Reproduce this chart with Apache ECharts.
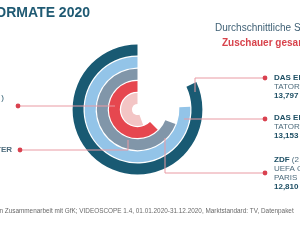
<!DOCTYPE html>
<html><head><meta charset="utf-8">
<script src="https://cdn.jsdelivr.net/npm/echarts@6/dist/echarts.min.js"></script>
<style>html,body{margin:0;padding:0;background:#fff;}#c{width:300px;height:240px;}</style>
</head><body><div id="c"></div>
<script>
// rings from inner to outer
const rings = ['Ring 5', 'Ring 4', 'Ring 3', 'Ring 2', 'Ring 1'];
// arc sweep (degrees of a full circle)
const sweep = [200, 225, 249, 273, 295];
const ringColors = ['#f3c5c5', '#e6474f', '#8196a9', '#93c4e8', '#195a73'];
const rightNames = ['DAS ERSTE', 'DAS ERSTE', 'ZDF'];
const rightSub = [['TATORT'], ['TATORT'], ['UEFA CHAMPIONS LEAGUE', 'PARIS - BAYERN']];
const rightSuffix = ['', '', ' (2'];
const rightValues = ['13,797', '13,153', '12,810'];

const chart = echarts.init(document.getElementById('c'), null, {renderer: 'canvas'});
const dark = '#1d4f64';
const lineC = '#e99aa3';
const dotC = '#d9414f';

const graphics = [];
function txt(x, y, text, style) {
  graphics.push({type: 'text', x: x, y: y, z: 10, style: Object.assign({text: text, fill: dark, fontFamily: 'Liberation Sans, Arial, sans-serif', fontSize: 8, verticalAlign: 'middle'}, style)});
}
function line(pts) {
  graphics.push({type: 'polyline', z: 5, shape: {points: pts}, style: {stroke: lineC, lineWidth: 1, fill: null}});
}
function dot(x, y) {
  graphics.push({type: 'circle', z: 6, shape: {cx: x, cy: y, r: 2.4}, style: {fill: dotC}});
}
// title
txt(90, 13, 'TOP-FORMATE 2020', {textAlign: 'right', fontWeight: 'bold', fontSize: 14, fill: '#1f5a73'});
// subtitle
txt(215, 28, 'Durchschnittliche Sehbeteiligung', {fontSize: 10, fill: '#3f6075'});
txt(222, 43, 'Zuschauer gesamt', {fontSize: 10, fontWeight: 'bold', fill: '#d8434c'});
// connectors
line([[195, 92], [195, 78], [265, 78]]); dot(265, 78);
line([[184, 119], [265, 119]]); dot(265, 119);
line([[165, 138], [165, 173], [265, 173]]); dot(265, 173);
line([[18, 106], [115, 106]]); dot(18, 106);
line([[20, 150], [128, 150], [128, 140]]); dot(20, 150);
// right labels
const groupsY = [78, 118, 160];
for (let i = 0; i < 3; i++) {
  let y = groupsY[i];
  graphics.push({type: 'text', x: 274, y: y, z: 10, style: {rich: {b: {fontWeight: 'bold', fill: dark, fontSize: 8, fontFamily: 'Liberation Sans, Arial, sans-serif'}, n: {fill: '#4d6b7c', fontSize: 8, fontFamily: 'Liberation Sans, Arial, sans-serif'}}, text: '{b|' + rightNames[i] + '}' + (rightSuffix[i] ? '{n|' + rightSuffix[i] + '}' : ''), verticalAlign: 'middle'}});
  y += 9;
  for (const s of rightSub[i]) { txt(274, y, s, {fill: '#4d6b7c'}); y += 9; }
  txt(274, y, rightValues[i], {fontWeight: 'bold'});
}
// left labels (cut at the left edge)
txt(4, 98, ')', {textAlign: 'right', fill: dark});
txt(12, 150, 'CENTER', {textAlign: 'right', fontWeight: 'bold', fill: '#4d6b7c'});
// footer
txt(-2, 211, 'in Zusammenarbeit mit GfK; VIDEOSCOPE 1.4, 01.01.2020-31.12.2020, Marktstandard: TV, Datenpaket', {fontSize: 6.4, fill: '#6a6a6a'});

chart.setOption({
  animation: false,
  polar: {center: [137.5, 109.5], radius: [5, 65.5]},
  angleAxis: {type: 'value', min: 0, max: 360, startAngle: 90, clockwise: false, show: false},
  radiusAxis: {type: 'category', data: rings, show: false},
  series: [{
    type: 'bar', coordinateSystem: 'polar', barCategoryGap: '10%',
    data: sweep.map((v, i) => ({value: v, itemStyle: {color: ringColors[i]}})),
    z: 2
  }],
  graphic: graphics
});
</script></body></html>
